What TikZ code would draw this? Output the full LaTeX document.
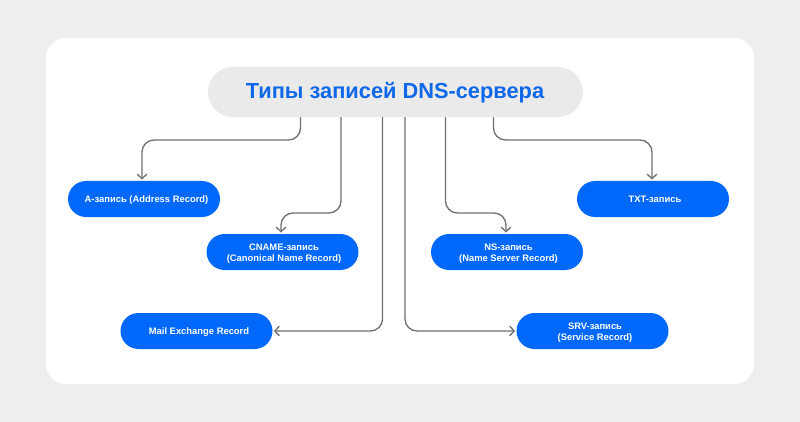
\documentclass[tikz,border=0pt]{standalone}
\usepackage{fontspec}
\setmainfont{Liberation Sans}[BoldFont={Liberation Sans Bold}]
\usetikzlibrary{arrows.meta}
\definecolor{pagegrey}{HTML}{EEEEEE}
\definecolor{pillgrey}{HTML}{EAEAEA}
\definecolor{recblue}{HTML}{0068FA}
\definecolor{titleblue}{HTML}{0F68E8}
\definecolor{linegrey}{HTML}{707070}
\tikzset{
  x=1pt,y=-1pt,
  rec/.style={fill=recblue,rounded corners=18pt,minimum width=152pt,minimum height=36pt,inner sep=0pt,text=white,anchor=center},
  rectxt/.style={text=white,font=\fontsize{9.4}{11}\selectfont\bfseries,align=center,inner sep=0pt},
  conn/.style={draw=linegrey,line width=1.3pt,rounded corners=12pt,shorten >=1.2pt,-{Straight Barb[length=4.5pt,width=9.5pt,line width=1.3pt]}},
}
\begin{document}
\begin{tikzpicture}
\useasboundingbox (0,0) rectangle (800,422);
\fill[pagegrey] (0,0) rectangle (800,422);
\fill[white,rounded corners=20pt] (46,38) rectangle (754,384);
\node[fill=pillgrey,rounded corners=25pt,minimum width=375pt,minimum height=50pt,inner sep=0pt] (title) at (395.5,92) {};
\node[text=titleblue,font=\fontsize{21.8}{24}\selectfont\bfseries,inner sep=0pt] (titletext) at (395,92.5) {Типы записей DNS-сервера};
\node[rec] (a) at (144,199) {};
\node[rec] (cname) at (282.5,252) {};
\node[rec] (mail) at (196.5,331) {};
\node[rec] (ns) at (507,252) {};
\node[rec] (srv) at (592.5,331) {};
\node[rec] (txt) at (653,199) {};
\node[rectxt] (atext) at (146.5,199.8) {A-запись (Address Record)};
\node[rectxt] (cnametext) at (284,253.3) {CNAME-запись\\(Canonical Name Record)};
\node[rectxt] (mailtext) at (199,332.3) {Mail Exchange Record};
\node[rectxt] (nstext) at (508.5,253.3) {NS-запись\\(Name Server Record)};
\node[rectxt] (srvtext) at (595,332.3) {SRV-запись\\(Service Record)};
\node[rectxt] (txttext) at (655,199.8) {TXT-запись};
\draw[conn] (title.south -| 300.5,0) -- (300.5,140) -- (142,140) -- (a.north -| 142,0);
\draw[conn] (title.south -| 341,0) -- (341,213) -- (281,213) -- (cname.north -| 281,0);
\draw[conn] (title.south -| 382.5,0) -- (382.5,331) -- (mail.east);
\draw[conn] (title.south -| 405,0) -- (405,331) -- (srv.west);
\draw[conn] (title.south -| 445.5,0) -- (445.5,213) -- (506,213) -- (ns.north -| 506,0);
\draw[conn] (title.south -| 493.5,0) -- (493.5,140) -- (652,140) -- (txt.north -| 652,0);
\end{tikzpicture}
\end{document}
